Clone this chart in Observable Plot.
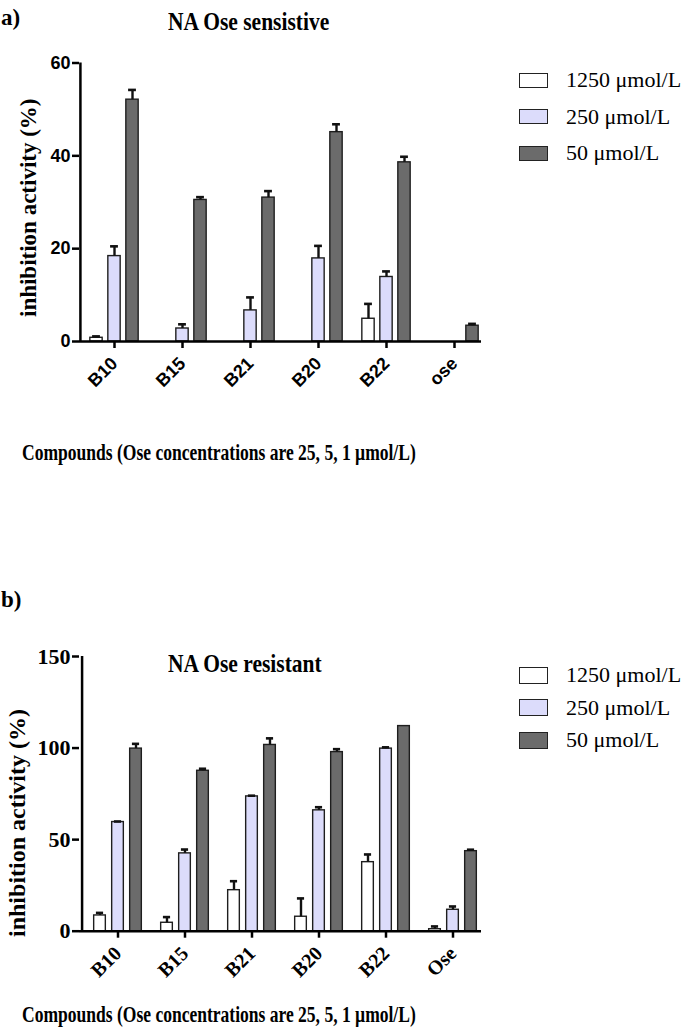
<!DOCTYPE html>
<html><head><meta charset="utf-8">
<script src="https://cdn.jsdelivr.net/npm/d3@7"></script>
<script src="https://cdn.jsdelivr.net/npm/@observablehq/plot@0.6"></script>
<style>
body{margin:0;background:#fff;}
#root{position:relative;width:689px;height:1032px;overflow:hidden;font-family:"Liberation Serif","Times New Roman",serif;color:#000;}
.abs{position:absolute;white-space:nowrap;line-height:1;}
.panel{font-weight:bold;font-size:23px;}
.title{font-weight:bold;font-size:25px;transform-origin:left top;transform:scaleX(0.86);}
.xtitle{font-weight:bold;font-size:24px;transform-origin:left top;transform:scaleX(0.73);}
.ytitle{font-weight:bold;transform-origin:left top;transform:rotate(-90deg);}
.leg{font-size:22px;}
.sw{position:absolute;width:29px;border:1.5px solid #222;box-sizing:border-box;}
.chart{position:absolute;left:0;}
</style>
</head><body><div id="root"></div>
<script>
// ---- data ----
const compoundsA = ["B10", "B15", "B21", "B20", "B22", "ose"];
const compoundsB = ["B10", "B15", "B21", "B20", "B22", "Ose"];
const seriesNames = ["1250 μmol/L", "250 μmol/L", "50 μmol/L"];
const seriesColors = ["#ffffff", "#dcdcfb", "#6b6b6b"];

// Panel a) NA Ose sensitive: means and SD (upper error)
const sens1250 = [0.8, 0, 0, 0, 4.9, 0];
const sens1250Sd = [0.3, 0, 0, 0, 3.2, 0];
const sens250 = [18.4, 2.8, 6.7, 17.9, 13.9, 0];
const sens250Sd = [2.1, 0.9, 2.8, 2.7, 1.2, 0];
const sens50 = [52.1, 30.5, 31.0, 45.1, 38.6, 3.4];
const sens50Sd = [2.1, 0.6, 1.4, 1.7, 1.2, 0.4];

// Panel b) NA Ose resistant
const res1250 = [8.6, 4.6, 22.4, 7.9, 37.7, 1.1];
const res1250Sd = [1.4, 3.1, 4.9, 10.0, 4.2, 1.5];
const res250 = [59.6, 42.5, 73.6, 66.0, 99.7, 11.7];
const res250Sd = [0.3, 2.1, 0.4, 1.7, 0.7, 1.8];
const res50 = [99.7, 87.6, 101.7, 97.8, 112.0, 43.7];
const res50Sd = [2.6, 1.1, 3.6, 1.6, 0, 0.8];

const ticksA = [0, 20, 40, 60];
const ticksB = [0, 50, 100, 150];
const panelLabels = ["a)", "b)"];
const titles = ["NA Ose sensistive", "NA Ose resistant"];
const yTitle = "inhibition activity (%)";
const xTitle = "Compounds (Ose concentrations are 25, 5, 1 µmol/L)";

function rows(compounds, vals, sds) {
  const out = [];
  vals.forEach((arr, s) => arr.forEach((v, i) => out.push({compound: compounds[i], series: seriesNames[s], s, value: v, sd: sds[s][i]})));
  return out;
}

function makeChart({compounds, data, yMax, ticks, top, marginTop, height, marginBottom, xRange, axisX0, tickFontY, xFont, xFontSize, xPad}) {
  const n = compounds.length;
  const bw = (xRange[1] - xRange[0]) / n;
  const barW = 12.5, stepW = 18;
  const marks = [];
  for (let s = 0; s < 3; s++) {
    const off = (s - 1) * stepW;
    const d = data.filter(r => r.s === s);
    marks.push(Plot.barY(d.filter(r => r.value > 0), {
      x: "compound", y: "value", fill: "series", stroke: "#1e1e1e", strokeWidth: 1.4,
      insetLeft: bw / 2 + off - barW / 2, insetRight: bw / 2 - off - barW / 2
    }));
    const e = d.filter(r => r.sd > 0);
    marks.push(Plot.ruleX(e, {x: "compound", y1: "value", y2: r => r.value + r.sd, dx: off, stroke: "#111", strokeWidth: 2.4}));
    marks.push(Plot.tickY(e, {x: "compound", y: r => r.value + r.sd, insetLeft: bw / 2 + off - 4, insetRight: bw / 2 - off - 4, stroke: "#111", strokeWidth: 2.6}));
  }
  marks.push(Plot.ruleY([0], {stroke: "#000", strokeWidth: 2.5}));
  marks.push(Plot.ruleX([compounds[0]], {x: d => d, y1: 0, y2: yMax, dx: -bw / 2 - (xRange[0] - axisX0), stroke: "#000", strokeWidth: 2.5}));
  marks.push(Plot.axisY({ticks, tickSize: 7, tickPadding: 2, strokeWidth: 2.5, label: null, fontSize: tickFontY.size, fontWeight: "bold", fontFamily: tickFontY.family, anchor: "left"}));
  marks.push(Plot.axisX({tickSize: 7, tickPadding: xPad, tickRotate: -45, strokeWidth: 2.5, label: null, fontSize: xFontSize, fontWeight: "bold", fontFamily: xFont}));
  const svg = Plot.plot({
    width: 689, height, marginTop, marginBottom, marginLeft: axisX0, marginRight: 689 - 481,
    style: {background: "transparent", overflow: "visible"},
    x: {domain: compounds, range: xRange, padding: 0},
    y: {domain: [0, yMax]},
    color: {domain: seriesNames, range: seriesColors},
    marks
  });
  svg.classList.add("chart");
  svg.style.top = top + "px";
  return svg;
}

const root = document.getElementById("root");
function addText(cls, text, left, top, size) {
  const el = document.createElement("div");
  el.className = "abs " + cls;
  el.textContent = text;
  el.style.left = left + "px";
  el.style.top = top + "px";
  if (size) el.style.fontSize = size + "px";
  root.appendChild(el);
  return el;
}
function addLegend(left, top, rowGap, swH) {
  seriesNames.forEach((name, i) => {
    const sw = document.createElement("div");
    sw.className = "sw";
    sw.style.left = left + "px";
    sw.style.top = (top + i * rowGap - swH / 2) + "px";
    sw.style.height = swH + "px";
    sw.style.background = seriesColors[i];
    root.appendChild(sw);
    addText("leg", name, left + 47, top + i * rowGap - 11);
  });
}

// Panel a
root.appendChild(makeChart({
  compounds: compoundsA,
  data: rows(compoundsA, [sens1250, sens250, sens50], [sens1250Sd, sens250Sd, sens50Sd]),
  yMax: 60, ticks: ticksA, top: 0, marginTop: 62.5, height: 400, marginBottom: 59,
  xRange: [79, 488], axisX0: 79,
  tickFontY: {size: 18, family: "Liberation Sans, Arial, sans-serif"},
  xFont: "Liberation Sans, Arial, sans-serif", xFontSize: 18, xPad: 12
}));
// Panel b
root.appendChild(makeChart({
  compounds: compoundsB,
  data: rows(compoundsB, [res1250, res250, res50], [res1250Sd, res250Sd, res50Sd]),
  yMax: 150, ticks: ticksB, top: 600, marginTop: 56, height: 400, marginBottom: 69.3,
  xRange: [81, 488], axisX0: 79,
  tickFontY: {size: 22, family: "Liberation Serif, Times New Roman, serif"},
  xFont: "Liberation Serif, Times New Roman, serif", xFontSize: 20, xPad: 12
}));

addText("panel", panelLabels[0], 1, 6);
addText("title", titles[0], 168, 9);
addText("ytitle", yTitle, 17, 317, 23);
addText("xtitle", xTitle, 22, 440);
addLegend(519, 80, 36.5, 15);

addText("panel", panelLabels[1], 1, 588);
addText("title", titles[1], 168, 651);
addText("ytitle", yTitle, 5, 937, 24);
addText("xtitle", xTitle, 22, 1002);
addLegend(519, 675, 32.5, 17);
</script>
</body></html>
